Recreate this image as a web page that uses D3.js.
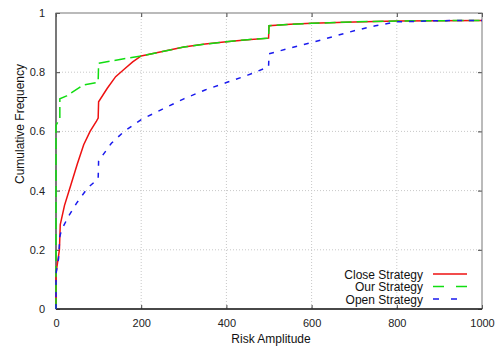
<!DOCTYPE html>
<html>
<head>
<meta charset="utf-8">
<script src="https://cdn.jsdelivr.net/npm/d3@7"></script>
<style>
  body { margin: 0; background: #fff; }
  svg { font-family: "Liberation Sans", Arial, sans-serif; }
</style>
</head>
<body>
<svg id="chart" width="499" height="348"></svg>
<script>
// risk amplitude (x) and cumulative frequency (y)
var closeX = [0, 0, 8, 10, 20, 35, 50, 65, 80, 95, 99, 100, 120, 140, 160, 180, 200, 250, 300, 350, 400, 450, 499, 500, 550, 600, 700, 800, 900, 1000];
var closeY = [0, 0.12, 0.20, 0.285, 0.35, 0.42, 0.49, 0.555, 0.60, 0.635, 0.645, 0.70, 0.745, 0.785, 0.81, 0.835, 0.855, 0.87, 0.885, 0.895, 0.903, 0.91, 0.915, 0.957, 0.962, 0.965, 0.97, 0.973, 0.974, 0.975];

var ourX = [0, 0, 9, 9, 25, 64, 95, 99, 100, 150, 200, 250, 300, 350, 400, 450, 499, 500, 550, 600, 700, 800, 900, 1000];
var ourY = [0, 0.62, 0.645, 0.71, 0.72, 0.757, 0.765, 0.77, 0.83, 0.843, 0.855, 0.87, 0.885, 0.895, 0.903, 0.91, 0.915, 0.957, 0.962, 0.965, 0.97, 0.973, 0.974, 0.975];

var openX = [0, 0, 6, 9, 13, 30, 48, 75, 99, 100, 130, 160, 200, 250, 300, 350, 400, 450, 499, 500, 550, 600, 650, 700, 750, 800, 900, 1000];
var openY = [0, 0.12, 0.17, 0.245, 0.267, 0.315, 0.357, 0.41, 0.44, 0.50, 0.56, 0.60, 0.64, 0.675, 0.71, 0.74, 0.765, 0.79, 0.818, 0.862, 0.882, 0.90, 0.92, 0.94, 0.957, 0.97, 0.974, 0.975];

var xTicks = [0, 200, 400, 600, 800, 1000];
var yTicks = [0, 0.2, 0.4, 0.6, 0.8, 1];
var legendNames = ["Close Strategy", "Our Strategy", "Open Strategy"];

const padL = 56, padR = 482, padT = 13, padB = 309;
const svg = d3.select('#chart');

var xScale = d3.scaleLinear().domain([0, 1000]).range([padL, padR]);
var yScale = d3.scaleLinear().domain([0, 1]).range([padB, padT]);

// grid
svg.append('g').selectAll('line').data(xTicks.slice(1, -1)).join('line')
  .attr('x1', d => xScale(d)).attr('x2', d => xScale(d))
  .attr('y1', padT).attr('y2', padB)
  .attr('stroke', '#c8c8c8').attr('stroke-dasharray', '1,2');
svg.append('g').selectAll('line').data(yTicks.slice(1, -1)).join('line')
  .attr('y1', d => yScale(d)).attr('y2', d => yScale(d))
  .attr('x1', padL).attr('x2', padR)
  .attr('stroke', '#c8c8c8').attr('stroke-dasharray', '1,2');

// axes with inward ticks, mirrored
function styleAxis(g) {
  g.select('.domain').remove();
  g.selectAll('.tick line').attr('stroke', '#444');
  g.selectAll('text').attr('font-size', 11).attr('fill', '#222')
    .attr('font-family', '"Liberation Sans", Arial, sans-serif');
}
svg.append('g').attr('transform', `translate(0,${padB})`)
  .call(d3.axisBottom(xScale).tickValues(xTicks).tickSize(-4).tickPadding(10).tickFormat(d3.format('d')))
  .call(styleAxis);
svg.append('g').attr('transform', `translate(0,${padT})`)
  .call(d3.axisTop(xScale).tickValues(xTicks).tickSize(-4).tickFormat(''))
  .call(styleAxis);
svg.append('g').attr('transform', `translate(${padL},0)`)
  .call(d3.axisLeft(yScale).tickValues(yTicks).tickSize(-4).tickPadding(11).tickFormat(d => d))
  .call(styleAxis);
svg.append('g').attr('transform', `translate(${padR},0)`)
  .call(d3.axisRight(yScale).tickValues(yTicks).tickSize(-4).tickFormat(''))
  .call(styleAxis);

svg.append('rect')
  .attr('x', padL).attr('y', padT).attr('width', padR - padL).attr('height', padB - padT)
  .attr('fill', 'none').attr('stroke', '#777').attr('stroke-width', 1);
svg.append('line').attr('x1', padL).attr('x2', padR).attr('y1', padB).attr('y2', padB)
  .attr('stroke', '#222').attr('stroke-width', 1.3);
svg.append('line').attr('x1', padL).attr('x2', padL).attr('y1', padT).attr('y2', padB)
  .attr('stroke', '#555').attr('stroke-width', 1.3);

// series
var series = [
  { xs: closeX, ys: closeY, color: '#ee1111', dash: null },
  { xs: ourX, ys: ourY, color: '#11dd11', dash: '11,5' },
  { xs: openX, ys: openY, color: '#1a1aee', dash: '5,7' }
];
var line = d3.line().x(d => xScale(d[0])).y(d => yScale(d[1]));
series.forEach(function(s) {
  svg.append('path')
    .datum(s.xs.map((x, i) => [x, s.ys[i]]))
    .attr('d', line)
    .attr('fill', 'none')
    .attr('stroke', s.color)
    .attr('stroke-width', 1.5)
    .attr('stroke-dasharray', s.dash);
});

// legend
var legend = svg.append('g');
series.forEach(function(s, i) {
  var y = 274 + i * 12.5;
  legend.append('text')
    .attr('x', 423).attr('y', y + 4.5)
    .attr('text-anchor', 'end').attr('font-size', 12).attr('fill', '#111')
    .text(legendNames[i]);
  legend.append('line')
    .attr('x1', 433).attr('x2', 467).attr('y1', y).attr('y2', y)
    .attr('stroke', s.color).attr('stroke-width', 1.5)
    .attr('stroke-dasharray', i === 0 ? null : (i === 1 ? '11,12' : '6,12'));
});

// axis titles
svg.append('text')
  .attr('x', 271).attr('y', 343)
  .attr('text-anchor', 'middle').attr('font-size', 12).attr('fill', '#111')
  .text('Risk Amplitude');
svg.append('text')
  .attr('transform', 'translate(24,124) rotate(-90)')
  .attr('text-anchor', 'middle').attr('font-size', 12).attr('fill', '#111')
  .text('Cumulative Frequency');
</script>
</body>
</html>
